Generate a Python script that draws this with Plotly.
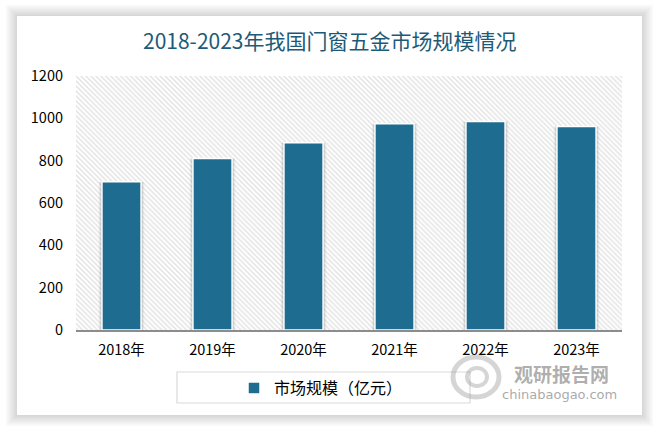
import plotly.graph_objects as go

# ---- data ----
years = ["2018年", "2019年", "2020年", "2021年", "2022年", "2023年"]
market_size = [700, 810, 885, 975, 985, 962]
series_name = "市场规模（亿元）"
title_text = "2018-2023年我国门窗五金市场规模情况"
y_ticks = [0, 200, 400, 600, 800, 1000, 1200]

# ---- geometry (pixels) ----
W, H = 659, 432
L, R, T, B = 76, 622, 76, 330
pw, ph = R - L, B - T


def px_x(x):
    return (x - L) / pw


def px_y(y):
    return (B - y) / ph


BAR_COLOR = "#1e6c8f"
FONT = "Noto Sans CJK SC"

fig = go.Figure()

# hatched background of plot area (on hidden base axis)
fig.add_trace(go.Bar(
    x=[0.5], y=[max(y_ticks)], width=[1.0], xaxis="x", yaxis="y",
    marker=dict(color="white", line=dict(width=0),
                pattern=dict(shape="\\", fgcolor="#c4c4c4", bgcolor="white",
                             size=3.5, solidity=0.4)),
    showlegend=False, hoverinfo="skip"))

# soft shadows behind bars
for w, a in [(0.50, 0.05), (0.475, 0.07), (0.455, 0.09)]:
    fig.add_trace(go.Bar(
        x=years, y=market_size, xaxis="x2", yaxis="y", width=w,
        marker=dict(color=f"rgba(0,0,0,{a})", line=dict(width=0)),
        showlegend=False, hoverinfo="skip"))

# main bars
fig.add_trace(go.Bar(
    x=years, y=market_size, xaxis="x2", yaxis="y", width=0.43,
    name=series_name,
    marker=dict(color=BAR_COLOR, line=dict(color="white", width=1.5))))

shapes = []
# card shadow
for i in range(8, 0, -1):
    d = i * 1.4
    shapes.append(dict(type="rect", xref="paper", yref="paper", layer="below",
                       x0=px_x(17 - d), x1=px_x(642 + d),
                       y0=px_y(415 + d), y1=px_y(16 - d),
                       line=dict(width=0), fillcolor="rgba(0,0,0,0.018)"))
# card
shapes.append(dict(type="rect", xref="paper", yref="paper", layer="below",
                   x0=px_x(17), x1=px_x(642), y0=px_y(415), y1=px_y(16),
                   line=dict(width=0), fillcolor="white"))
# legend box
shapes.append(dict(type="rect", xref="paper", yref="paper", layer="above",
                   x0=px_x(177), x1=px_x(470), y0=px_y(403), y1=px_y(372),
                   line=dict(color="#d9d9d9", width=1.2), fillcolor="rgba(0,0,0,0)"))
# watermark logo arcs
shapes.append(dict(type="circle", xref="paper", yref="paper", layer="above",
                   x0=px_x(453), x1=px_x(499), y0=px_y(397), y1=px_y(357),
                   line=dict(color="rgba(150,150,150,0.4)", width=5)))
shapes.append(dict(type="circle", xref="paper", yref="paper", layer="above",
                   x0=px_x(467), x1=px_x(487), y0=px_y(386), y1=px_y(368),
                   line=dict(color="rgba(150,150,150,0.4)", width=4)))

annotations = [
    dict(text=title_text, xref="paper", yref="paper", x=px_x(330), y=px_y(40),
         xanchor="center", yanchor="middle", showarrow=False,
         font=dict(family=FONT, size=21, color="#1d5a78")),
    dict(text="<b>观研报告网</b>", xref="paper", yref="paper", x=px_x(561), y=px_y(373),
         xanchor="center", yanchor="middle", showarrow=False,
         font=dict(family=FONT, size=19, color="rgba(140,140,140,0.7)")),
    dict(text="chinabaogao.com", xref="paper", yref="paper", x=px_x(559), y=px_y(394),
         xanchor="center", yanchor="middle", showarrow=False,
         font=dict(family="DejaVu Sans", size=13, color="rgba(140,140,140,0.75)")),
]

fig.update_layout(
    width=W, height=H,
    margin=dict(l=L, r=W - R, t=T, b=H - B, pad=0, autoexpand=False),
    paper_bgcolor="white", plot_bgcolor="rgba(0,0,0,0)",
    barmode="overlay",
    font=dict(family=FONT, size=14, color="#000000"),
    xaxis=dict(range=[0, 1], visible=False, fixedrange=True, automargin=False),
    xaxis2=dict(overlaying="x", anchor="y", side="bottom", type="category",
                showline=True, linecolor="#8c8c8c", linewidth=1.5,
                ticks="", showgrid=False, tickfont=dict(size=14.5, color="#000"),
                range=[-0.5, 5.5], ticklabelstandoff=6, automargin=False),
    yaxis=dict(range=[0, 1200], tickvals=y_ticks, showgrid=False, zeroline=False,
               showline=False, ticks="", tickfont=dict(size=14.5, color="#000"),
               ticklabelstandoff=12, automargin=False),
    showlegend=True,
    legend=dict(x=px_x(234), y=px_y(388), xanchor="left", yanchor="middle",
                orientation="h", bgcolor="rgba(0,0,0,0)", borderwidth=0,
                font=dict(size=16, color="#000"), itemwidth=30),
    shapes=shapes,
    annotations=annotations,
)

fig.write_html("out.html", config={"displayModeBar": False},
               post_script="document.body.style.margin='0';document.body.style.padding='0';")
